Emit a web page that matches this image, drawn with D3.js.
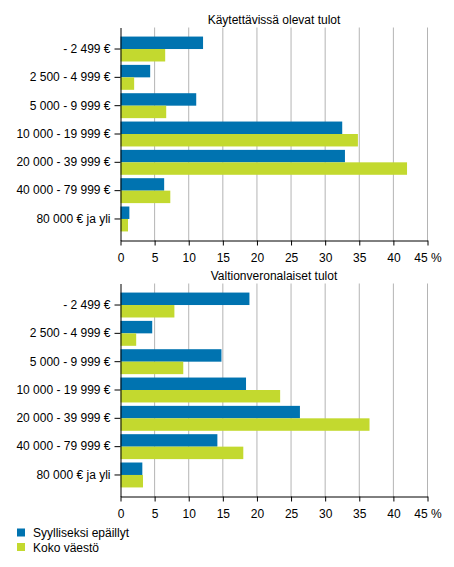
<!DOCTYPE html>
<html>
<head>
<meta charset="utf-8">
<script src="https://cdn.jsdelivr.net/npm/d3@7"></script>
<style>
  body { margin: 0; background: #fff; }
  svg { display: block; font-family: "Liberation Sans", Arial, sans-serif; }
</style>
</head>
<body>
<div id="chart"></div>
<script>
// Tuloluokat
const categories = ['- 2 499 €', '2 500 - 4 999 €', '5 000 - 9 999 €', '10 000 - 19 999 €',
  '20 000 - 39 999 €', '40 000 - 79 999 €', '80 000 € ja yli'];
const seriesNames = ['Syylliseksi epäillyt', 'Koko väestö'];
const panelTitles = ['Käytettävissä olevat tulot', 'Valtionveronalaiset tulot'];

// Käytettävissä olevat tulot, %
const kaytSyylliset = [12.1, 4.35, 11.1, 32.5, 32.9, 6.4, 1.3];
const kaytKoko = [6.55, 2.0, 6.7, 34.8, 42.0, 7.3, 1.1];

// Valtionveronalaiset tulot, %
const valtSyylliset = [18.9, 4.65, 14.8, 18.4, 26.3, 14.2, 3.2];
const valtKoko = [7.9, 2.3, 9.2, 23.4, 36.5, 18.0, 3.3];

const xTicks = [0, 5, 10, 15, 20, 25, 30, 35, 40, 45];

const width = 454;
const height = 567;
const colors = ['#0073b0', '#c3d92f'];

const svg = d3.select('#chart')
  .append('svg')
  .attr('width', width)
  .attr('height', height);

const x = d3.scaleLinear()
  .domain([0, 45])
  .range([120.5, 427.5]);

const panels = [
  { title: panelTitles[0], values: [kaytSyylliset, kaytKoko], top: 27.5, bottom: 240.5, titleY: 24 },
  { title: panelTitles[1], values: [valtSyylliset, valtKoko], top: 283.5, bottom: 496.5, titleY: 280 }
];

panels.forEach(p => {
  const y = d3.scaleBand()
    .domain(categories)
    .range([p.top, p.bottom])
    .paddingInner(0.12)
    .paddingOuter(0.32);

  const sub = d3.scaleBand()
    .domain(seriesNames)
    .range([0, y.bandwidth()]);

  const g = svg.append('g');

  // otsikko
  g.append('text')
    .attr('x', 274)
    .attr('y', p.titleY)
    .attr('text-anchor', 'middle')
    .attr('font-size', 12)
    .attr('fill', '#000')
    .text(p.title);

  // pystysuorat apuviivat
  g.selectAll('.grid')
    .data(xTicks.slice(1))
    .enter().append('line')
    .attr('x1', d => x(d))
    .attr('x2', d => x(d))
    .attr('y1', p.top)
    .attr('y2', p.bottom)
    .attr('stroke', '#b4b4b4')
    .attr('stroke-width', 1);

  // palkit
  seriesNames.forEach((s, si) => {
    g.selectAll('.bar' + si)
      .data(categories)
      .enter().append('rect')
      .attr('x', x(0))
      .attr('y', c => y(c) + sub(s))
      .attr('width', (c, i) => x(p.values[si][i]) - x(0))
      .attr('height', sub.bandwidth())
      .attr('fill', colors[si]);
  });

  // akselit
  const xAxis = g.append('g')
    .attr('transform', `translate(0,${p.bottom})`)
    .call(d3.axisBottom(x)
      .tickValues(xTicks)
      .tickSize(5)
      .tickPadding(8)
      .tickSizeOuter(0)
      .tickFormat(d => d === 45 ? '45 %' : d));

  const yAxis = g.append('g')
    .attr('transform', `translate(${x(0)},0)`)
    .call(d3.axisLeft(y)
      .tickSize(6)
      .tickPadding(4)
      .tickSizeOuter(0));

  [xAxis, yAxis].forEach(a => {
    a.selectAll('text').attr('font-size', 12).attr('fill', '#000')
      .attr('font-family', '"Liberation Sans", Arial, sans-serif');
    a.selectAll('line').attr('stroke', '#000');
    a.select('.domain').attr('stroke', '#000');
  });
});

// selite
const legend = svg.append('g');
seriesNames.forEach((s, i) => {
  legend.append('rect')
    .attr('x', 17)
    .attr('y', 528.5 + i * 14.5)
    .attr('width', 8)
    .attr('height', 8)
    .attr('fill', colors[i]);
  legend.append('text')
    .attr('x', 33)
    .attr('y', 537 + i * 14.5)
    .attr('font-size', 12)
    .attr('fill', '#000')
    .text(s);
});
</script>
</body>
</html>
